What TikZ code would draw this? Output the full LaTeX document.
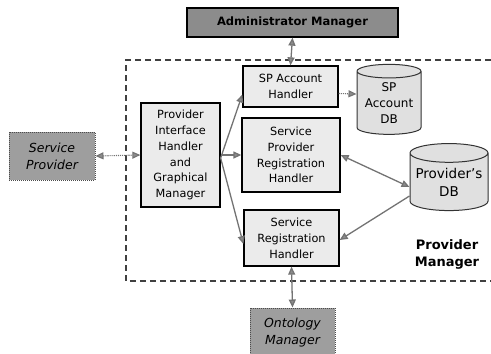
\documentclass[tikz,border=0pt]{standalone}
\usepackage{fontspec}
\setmainfont{DejaVu Sans}
\usetikzlibrary{shapes.geometric,arrows.meta}

\begin{document}
\begin{tikzpicture}[x=1pt,y=-1pt,
  font=\fontsize{11.3}{15.8}\selectfont,
  handler/.style={draw=black, line width=1.3pt, fill=black!8, align=center,
    inner sep=1pt, text=black},
  outer/.style={draw=black!70, densely dotted, line width=1pt, fill=black!38,
    align=center, inner sep=1pt, font=\fontsize{12.5}{17}\selectfont\itshape},
  store/.style={cylinder, shape border rotate=90, draw=black!80, line width=1pt,
    fill=black!12, aspect=0.28, align=center, inner sep=0pt},
  tipgray/.tip={Triangle[length=8pt,width=7pt,fill=black!45]},
  link/.style={draw=black!55, line width=1.3pt, -{tipgray}},
  dlink/.style={draw=black!55, line width=1.3pt, {tipgray}-{tipgray}},
  dotlink/.style={draw=black!55, line width=1.1pt, densely dotted}
]
\useasboundingbox (0,0) rectangle (491,354);

% provider manager boundary
\draw[black!75, line width=1.3pt, dash pattern=on 6pt off 4pt]
  (491,60) -- (126,60) -- (126,281) -- (491,281);

% boxes
\node[handler, fill=black!45, minimum width=211pt, minimum height=29pt,
  font=\fontsize{11.5}{13}\selectfont\bfseries] (admin) at (292.5,22.5) {Administrator Manager};
\node[handler, minimum width=95pt, minimum height=41pt] (spah) at (290.5,86.5) {SP Account\\Handler};
\node[store, minimum width=64pt, minimum height=70pt,
  font=\fontsize{12}{16}\selectfont] (spadb) at (389,103) {SP\\Account\\DB};
\node[handler, minimum width=79pt, minimum height=104pt] (pih) at (180.5,155) {Provider\\Interface\\Handler\\and\\Graphical\\Manager};
\node[outer, minimum width=86pt, minimum height=48pt] (sp) at (52,156) {Service\\Provider};
\node[handler, minimum width=98pt, minimum height=74pt] (sprh) at (291,155) {Service\\Provider\\Registration\\Handler};
\node[handler, minimum width=95pt, minimum height=56pt] (srh) at (291.5,238) {Service\\Registration\\Handler};
\node[store, minimum width=78pt, minimum height=67pt,
  font=\fontsize{13.5}{18}\selectfont] (pdb) at (449,182) {Provider's\\DB};
\node[outer, minimum width=85pt, minimum height=50pt] (ont) at (292.5,333) {Ontology\\Manager};
\node[font=\fontsize{13}{17}\selectfont\bfseries, align=center] (pm) at (447,254) {Provider\\Manager};

% connectors
\coordinate (fork) at ([yshift=-3pt]pih.east);
\draw[dlink] (admin.south) -- (spah.north);
\draw[dlink] (srh.south) -- (ont.north);
\draw[dotlink, {tipgray}-{tipgray}] (sp.east) -- (pih.west);
\draw[link] (fork) -- ([yshift=-8pt]spah.west);
\draw[link] (pih.east) -- (sprh.west);
\draw[link] (fork) -- ([yshift=-6pt]srh.west);
\draw[dotlink, -{tipgray}] ([yshift=-7pt]spah.east) -- ([yshift=9pt]spadb.west);
\draw[dlink] (sprh.east) -- ([yshift=-5pt]pdb.west);
\draw[link] ([yshift=-14pt]pdb.west) -- ([yshift=-2pt]srh.east);
\end{tikzpicture}
\end{document}
